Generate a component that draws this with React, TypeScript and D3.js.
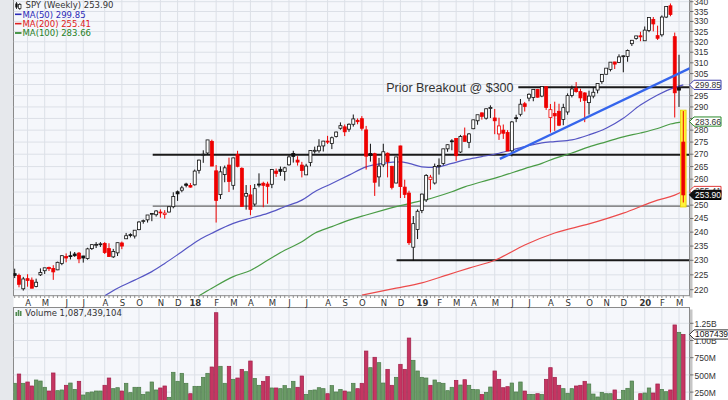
import React from "react";
import * as d3 from "d3";

// ---------- DATA (weekly SPY, Mar 13 2017 .. Mar 9 2020, values as plotted) ----------
const firstWeek = [2017, 2, 13]; // Monday of first weekly bar

const opens = [
  225.4, 224.8, 220.3, 223.7, 223.2, 221.1, 225.0, 226.4, 227.5, 227.2, 226.7, 228.9, 231.3,
  231.6, 232.2, 232.5, 231.5, 230.6, 234.1, 235.4, 235.7, 235.9, 234.1, 231.2, 232.6, 236.1,
  237.6, 239.1, 238.6, 240.9, 243.9, 244.5, 246.7, 246.4, 247.4, 246.5, 247.4, 249.4, 255.1,
  255.7, 258.1, 257.5, 257.8, 263.5, 269.7, 270.5, 275.3, 263.3, 254.0, 261.8, 265.6, 257.6,
  269.9, 264.3, 253.4, 253.9, 250.4, 258.1, 258.4, 258.1, 258.0, 263.2, 263.9, 263.0, 265.7,
  270.3, 267.6, 265.6, 261.7, 266.6, 271.2, 271.4, 273.4, 275.4, 274.4, 277.3, 280.8, 281.4, 280.4,
  282.5, 284.2, 284.9, 280.1, 270.3, 270.2, 260.9, 265.7, 270.4, 265.1, 258.5, 273.4, 256.9,
  254.6, 234.6, 241.0, 248.0, 252.0, 259.9, 258.5, 265.1, 266.2, 272.2, 275.5, 276.5,
  270.9, 277.6, 274.9, 280.6, 284.0, 287.4, 285.1, 289.3, 285.2, 278.4, 280.0, 279.0, 271.4, 285.3,
  286.8, 291.4, 293.9, 294.2, 297.7, 294.8, 299.0, 285.4, 287.1, 288.1, 284.6, 287.8, 295.1,
  298.3, 296.8, 296.2, 291.9, 294.8, 297.5, 301.3, 304.7, 306.9, 310.4, 310.2, 313.1, 313.0,
  319.1, 321.6, 322.9, 320.5, 325.5, 331.0, 323.0, 323.4, 332.2, 337.9, 322.5, 298.2, 275.0,
];
const highs = [
  227.1, 225.4, 224.3, 225.2, 224.1, 223.7, 227.2, 227.4, 227.8, 228.3, 229.5, 231.8, 232.4,
  233.1, 232.9, 232.9, 231.6, 234.4, 235.6, 236.4, 236.4, 236.4, 236.0, 234.0, 236.2, 236.6,
  239.7, 239.6, 240.7, 244.0, 244.6, 246.3, 247.0, 248.1, 248.4, 248.1, 249.5, 254.9, 255.6,
  257.4, 258.6, 258.5, 263.8, 267.8, 271.6, 275.9, 276.0, 265.6, 265.1, 265.4, 268.6, 268.6,
  271.4, 264.7, 257.7, 257.7, 258.1, 262.3, 259.0, 259.0, 263.9, 264.2, 265.0, 264.9, 269.6,
  271.4, 269.2, 266.9, 266.1, 271.7, 273.1, 276.2, 275.5, 277.6, 277.3, 279.4, 283.3, 282.4, 282.9,
  286.7, 285.0, 286.0, 281.8, 274.3, 270.6, 268.5, 274.3, 270.7, 265.3, 268.9, 273.5, 259.8,
  255.5, 245.9, 248.4, 254.4, 262.0, 261.7, 266.2, 268.3, 272.2, 274.0, 276.2, 276.7,
  278.0, 281.1, 278.8, 284.5, 286.3, 287.6, 289.3, 290.7, 289.1, 285.3, 282.4, 280.0, 283.9, 286.6,
  293.5, 292.2, 296.0, 297.8, 298.0, 299.3, 299.1, 291.3, 292.3, 291.4, 291.4, 296.0, 299.5,
  301.1, 298.1, 296.5, 297.2, 298.9, 300.5, 304.7, 307.5, 310.3, 310.5, 314.0, 313.5, 316.3,
  320.9, 322.9, 324.9, 327.5, 332.0, 332.2, 327.9, 333.0, 337.7, 339.08, 324.5, 313.8, 288.2,
];
const lows = [
  223.9, 220.8, 219.7, 221.0, 220.5, 220.8, 224.6, 225.3, 226.3, 223.3, 226.6, 228.3, 229.3,
  230.3, 231.2, 229.0, 229.2, 230.2, 233.6, 234.3, 234.7, 232.2, 231.2, 230.8, 231.5, 233.9,
  237.5, 238.1, 237.7, 240.7, 243.1, 243.5, 244.0, 245.7, 245.3, 244.9, 247.3, 248.8, 251.6,
  254.9, 256.8, 256.7, 257.5, 262.2, 266.5, 269.7, 265.2, 243.5, 252.3, 258.8, 255.0, 255.9,
  264.7, 249.4, 248.3, 246.2, 249.6, 256.8, 249.2, 250.5, 256.5, 260.9, 261.3, 259.4, 265.4,
  266.6, 265.4, 260.7, 261.7, 265.1, 270.3, 270.6, 271.1, 274.2, 272.1, 276.9, 280.2, 277.5, 279.3,
  281.5, 282.5, 279.8, 263.8, 267.0, 253.5, 257.1, 264.8, 260.7, 256.0, 258.4, 252.7, 252.7,
  235.4, 229.8, 237.5, 247.0, 251.2, 255.9, 257.9, 261.8, 265.5, 271.0, 271.6, 267.3,
  270.5, 275.2, 272.5, 280.4, 282.3, 284.5, 284.5, 285.2, 278.3, 275.9, 276.3, 271.4, 269.1, 283.4,
  285.9, 288.0, 292.5, 292.5, 294.1, 294.3, 288.7, 279.0, 279.7, 281.7, 282.1, 286.6, 294.2,
  296.3, 292.2, 283.4, 286.7, 293.8, 296.0, 300.3, 304.5, 306.0, 307.1, 309.9, 305.6, 310.5,
  318.0, 321.0, 320.3, 320.4, 324.7, 325.1, 320.9, 322.5, 331.7, 332.6, 285.4, 290.0, 251.0,
];
const closes = [
  224.8, 221.8, 223.6, 223.1, 220.5, 222.5, 225.8, 227.4, 227.1, 226.0, 229.3, 231.6, 230.8,
  231.3, 231.6, 230.5, 230.8, 234.0, 235.5, 235.6, 235.8, 232.7, 231.3, 233.1, 236.2, 235.0,
  238.7, 238.9, 240.7, 243.7, 244.2, 246.3, 246.9, 247.8, 247.2, 247.0, 249.4, 253.3, 254.3,
  256.6, 257.6, 256.9, 263.2, 267.6, 270.0, 275.9, 265.2, 251.8, 262.9, 264.5, 259.1, 268.5,
  265.1, 249.5, 254.4, 248.4, 256.3, 257.7, 257.6, 257.2, 263.8, 262.3, 263.1, 264.5, 268.9,
  269.1, 266.8, 263.4, 265.2, 271.5, 271.6, 273.3, 275.4, 275.0, 276.8, 279.2, 281.9, 279.3, 282.5,
  284.8, 283.6, 280.8, 269.2, 269.5, 258.8, 265.2, 271.0, 267.0, 256.8, 268.9, 257.1, 254.1,
  236.2, 243.1, 247.7, 254.2, 261.5, 260.8, 265.0, 265.4, 272.2, 273.9, 275.2, 269.4,
  277.3, 275.3, 278.4, 284.4, 286.6, 285.9, 289.2, 289.8, 284.0, 281.8, 278.7, 271.3, 283.5, 285.1,
  291.2, 290.2, 295.6, 297.8, 294.3, 299.1, 289.8, 288.8, 286.1, 282.1, 289.7, 295.0, 298.0,
  296.8, 294.0, 292.9, 294.8, 296.5, 300.5, 304.6, 307.5, 310.3, 309.4, 312.8, 313.3, 315.8,
  320.73, 322.86, 322.41, 325.71, 331.95, 328.77, 321.73, 332.2, 337.6, 333.48, 296.26, 297.46, 253.9,
];
// weekly volume, millions of shares
const volumesM = [
  378, 513, 378, 397, 339, 426, 411, 320, 266, 528, 271, 281, 349,
  382, 290, 407, 208, 242, 252, 266, 266, 349, 455, 300, 314, 266,
  378, 242, 320, 320, 218, 252, 397, 281, 310, 339, 174, 538, 407,
  523, 378, 227, 334, 334, 465, 523, 615, 1404, 625, 378, 625, 436,
  455, 581, 547, 702, 450, 349, 407, 475, 310, 310, 300, 344, 300,
  407, 320, 484, 218, 276, 281, 314, 300, 227, 344, 252, 290, 266, 252,
  378, 300, 378, 847, 605, 756, 678, 382, 581, 349, 465, 654, 581,
  1036, 712, 557, 465, 455, 349, 426, 387, 378, 271, 320, 421,
  353, 430, 349, 290, 285, 218, 247, 324, 557, 436, 314, 329, 382, 252,
  397, 266, 218, 218, 227, 218, 436, 605, 465, 349, 300, 233, 300,
  339, 349, 407, 368, 222, 179, 247, 227, 227, 281, 145, 276, 305,
  411, 110, 227, 237, 310, 237, 368, 290, 256, 281, 1226, 1119, 1087.439,
];

// moving averages: [week index, value]
const ma50 = [
  [21, 218.0], [24, 220.5], [28, 223.2], [32, 226.1], [35, 228.9], [39, 233.0], [43, 237.2],
  [46, 239.6], [51, 243.2], [55, 245.1], [59, 246.9], [63, 249.4], [67, 251.9], [70, 255.1],
  [74, 258.3], [78, 261.6], [82, 264.9], [86, 266.3], [90, 266.9], [92, 266.3], [95, 264.9],
  [98, 264.7], [102, 266.3], [105, 267.7], [109, 269.0], [113, 270.4], [119, 273.1], [123, 274.7],
  [126, 275.2], [130, 275.9], [134, 278.0], [138, 280.8], [142, 285.1], [146, 290.8], [150, 295.3],
  [154, 298.7], [156, 299.85],
];
const ma100 = [
  [43, 218.0], [46, 220.5], [51, 224.4], [55, 226.5], [59, 230.0], [63, 233.5], [67, 236.5],
  [70, 239.6], [74, 242.0], [78, 244.4], [82, 246.3], [86, 248.1], [90, 249.8], [94, 251.3],
  [98, 253.0], [102, 255.1], [105, 257.0], [109, 259.0], [113, 260.9], [119, 264.2], [123, 266.3],
  [126, 268.3], [130, 270.5], [134, 273.0], [138, 275.1], [142, 277.2], [146, 278.8], [150, 280.7],
  [153, 282.6], [156, 283.66],
];
const ma200 = [
  [81, 218.2], [89, 220.5], [95, 222.3], [101, 225.0], [106, 227.3], [112, 230.0], [119, 235.4],
  [126, 239.7], [134, 243.0], [142, 247.0], [150, 251.9], [154, 253.8], [156, 255.41],
];

// annotations: horizontal levels [price, from week index]
const levelPrices = [269.8, 249.6, 298.8, 230.0];
const levelFrom = [32.2, 32.2, 117.5, 89.1];
const levelWidth = [2, 1.3, 2, 2];
const levelColor = ["#1a1a1a", "#666666", "#1a1a1a", "#1a1a1a"];
const trendLine = [[113.2, 268.1], [157.6, 307.5]];
const highlightBar = { index: 156, top: 288.6, bottom: 249.3 };

const priceTicks = d3.range(220, 341, 5);
const volTicks = [250, 500, 750, 1000, 1250];
const volTickLabels = ["250M", "500M", "750M", "1.00B", "1.25B"];
const monthLetters = ["J", "F", "M", "A", "M", "J", "J", "A", "S", "O", "N", "D"];

const tagValues = [299.85, 283.66, 255.41, 253.9];
const tagTexts = ["299.85", "283.66", "255.41", "253.90"];
const tagStroke = ["#3d3da8", "#2b8a2b", "#e03a3a", "#000000"];
const tagFill = ["#ffffff", "#ffffff", "#ffffff", "#111111"];
const tagTextColor = ["#333333", "#333333", "#333333", "#ffffff"];

const legendRows = [
  { text: "MA(50) 299.85", color: "#2b2bb8" },
  { text: "MA(200) 255.41", color: "#e02020" },
  { text: "MA(100) 283.66", color: "#1f7f1f" },
];

// ---------- CHART ----------
const FONT_AX = "'Liberation Sans', Arial, sans-serif";
const FONT_LG = "'DejaVu Sans', Verdana, sans-serif";

function weekDate(i: number) {
  const d = new Date(firstWeek[0], firstWeek[1], firstWeek[2]);
  d.setDate(d.getDate() + 7 * i);
  return d;
}

export default function App() {
  const n = closes.length;
  const x = d3.scaleLinear().domain([0, n - 1]).range([14.7, 683.3]);
  const y = d3.scaleLog().domain([220, 340]).range([289.7, 1.7]);
  const yv = d3.scaleLinear().domain([0, 1250]).range([409.3, 323.3]);

  const PL = 13.5, PR = 689.5, PT = -2, PB = 295.7, VT = 307.5, VB = 405;

  const months: { i: number; label: string; year: boolean }[] = [];
  for (let i = 1; i < n; i++) {
    const a = weekDate(i - 1), b = weekDate(i);
    if (a.getMonth() !== b.getMonth()) {
      const m = b.getMonth();
      months.push({
        i,
        label: m === 0 ? String(b.getFullYear()).slice(2) : monthLetters[m],
        year: m === 0,
      });
    }
  }

  // tick labels hidden behind the value tags (as in the reference)
  const visiblePriceTicks = priceTicks.filter(
    (p) => !tagValues.some((t) => Math.abs(y(p) - y(t)) < 4)
  );

  const maLine = d3
    .line<number[]>()
    .x((d) => x(d[0]))
    .y((d) => y(d[1]))
    .curve(d3.curveMonotoneX);

  const RED = "#ee0000";
  const BLK = "#111111";

  const tag = (yy: number, text: string, stroke: string, fill: string, color: string, key: string, right = 722) => (
    <g key={key}>
      <path
        d={`M${PR},${yy} L${PR + 4.5},${yy - 4.6} L${right},${yy - 4.6} L${right},${yy + 4.6} L${PR + 4.5},${yy + 4.6} Z`}
        fill={fill}
        stroke={stroke}
        strokeWidth={1}
      />
      <text x={PR + 5.5} y={yy + 3} fontSize={8.5} fontFamily={FONT_AX} fill={color}>
        {text}
      </text>
    </g>
  );

  return (
    <svg
      width={728}
      height={400}
      viewBox="0 0 728 400"
      style={{ position: "absolute", left: 0, top: 0, background: "#ffffff" }}
    >
      <defs>
        <clipPath id="mainClip">
          <rect x={PL} y={PT} width={PR - PL} height={PB - PT} />
        </clipPath>
        <clipPath id="volClip">
          <rect x={PL} y={VT} width={PR - PL} height={VB - VT} />
        </clipPath>
      </defs>

      {/* left margin */}
      <rect x={0} y={0} width={PL} height={400} fill="#e6e8ec" />

      {/* panel shadows */}
      <rect x={PR} y={0} width={3} height={PB + 2} fill="#c6c6c6" />
      <rect x={PR} y={VT + 2} width={3} height={400 - VT} fill="#c6c6c6" />

      {/* main panel background */}
      <rect x={PL} y={PT} width={PR - PL} height={PB - PT} fill="#f5f7fb" stroke="#8a8a8a" strokeWidth={1} />
      {/* volume panel background */}
      <rect x={PL} y={VT} width={PR - PL} height={VB - VT} fill="#f5f7fb" stroke="#8a8a8a" strokeWidth={1} />

      {/* grid main */}
      <g clipPath="url(#mainClip)">
        {priceTicks.map((p) => (
          <line key={"hg" + p} x1={PL} x2={PR} y1={y(p)} y2={y(p)} stroke="#dce0e7" strokeWidth={1} />
        ))}
        {months.map((m) => (
          <line key={"vg" + m.i} x1={x(m.i)} x2={x(m.i)} y1={PT} y2={PB} stroke="#dce0e7" strokeWidth={1} />
        ))}
      </g>
      {/* grid volume */}
      <g clipPath="url(#volClip)">
        {volTicks.map((v) => (
          <line key={"vhg" + v} x1={PL} x2={PR} y1={yv(v)} y2={yv(v)} stroke="#dce0e7" strokeWidth={1} />
        ))}
        {months.map((m) => (
          <line key={"vvg" + m.i} x1={x(m.i)} x2={x(m.i)} y1={VT} y2={VB} stroke="#dce0e7" strokeWidth={1} />
        ))}
      </g>

      {/* main chart content */}
      <g clipPath="url(#mainClip)">
        {/* horizontal levels */}
        {levelPrices.map((p, k) => (
          <line
            key={"lv" + k}
            x1={x(levelFrom[k])}
            x2={PR}
            y1={y(p)}
            y2={y(p)}
            stroke={levelColor[k]}
            strokeWidth={levelWidth[k]}
          />
        ))}

        {/* moving averages */}
        <path d={maLine(ma200 as number[][]) || ""} fill="none" stroke="#ec4b4b" strokeWidth={1.2} />
        <path d={maLine(ma100 as number[][]) || ""} fill="none" stroke="#4a9c46" strokeWidth={1.2} />
        <path d={maLine(ma50 as number[][]) || ""} fill="none" stroke="#5656c4" strokeWidth={1.2} />

        {/* highlight of latest bar */}
        <rect
          x={x(highlightBar.index) - 2.8}
          y={y(highlightBar.top)}
          width={5.6}
          height={y(highlightBar.bottom) - y(highlightBar.top)}
          fill="#fff23a"
          stroke="#e6cf00"
          strokeWidth={0.8}
        />

        {/* candles */}
        {closes.map((c, i) => {
          const o = opens[i], h = highs[i], l = lows[i];
          const up = i === 0 ? true : c >= closes[i - 1];
          const col = up ? BLK : RED;
          const hollow = c >= o;
          const cx = x(i);
          const top = y(Math.max(o, c));
          const bot = y(Math.min(o, c));
          return (
            <g key={"c" + i}>
              <line x1={cx} x2={cx} y1={y(h)} y2={y(l)} stroke={col} strokeWidth={1} />
              <rect
                x={cx - 1.5}
                y={top}
                width={3}
                height={Math.max(bot - top, 0.9)}
                fill={hollow ? "#ffffff" : col}
                stroke={col}
                strokeWidth={0.8}
              />
            </g>
          );
        })}

        {/* trend line */}
        <line
          x1={x(trendLine[0][0])}
          y1={y(trendLine[0][1])}
          x2={x(trendLine[1][0])}
          y2={y(trendLine[1][1])}
          stroke="#3565ec"
          strokeWidth={2.4}
        />
      </g>

      {/* annotation text */}
      <text x={513.5} y={92.3} textAnchor="end" fontSize={12.5} fontFamily={FONT_AX} fill="#333333">
        Prior Breakout @ $300
      </text>

      {/* bottom axis week ticks and month labels */}
      {closes.map((_, i) => (
        <line key={"wt" + i} x1={x(i)} x2={x(i)} y1={PB} y2={PB + 2.3} stroke="#777" strokeWidth={0.8} />
      ))}
      {months.map((m) => (
        <text
          key={"ml" + m.i}
          x={x(m.i) + 0.6}
          y={305.8}
          textAnchor="middle"
          fontSize={8.5}
          fontWeight={m.year ? "bold" : "normal"}
          fontFamily={FONT_LG}
          fill="#333"
        >
          {m.label}
        </text>
      ))}

      {/* right price axis */}
      {priceTicks.map((p) => (
        <line key={"ptk" + p} x1={PR + 0.5} x2={PR + 4} y1={y(p)} y2={y(p)} stroke="#555" strokeWidth={0.8} />
      ))}
      {visiblePriceTicks.map((p) => (
        <text key={"pt" + p} x={PR + 4.5} y={y(p) + 3} fontSize={8.5} fontFamily={FONT_AX} fill="#333">
          {p}
        </text>
      ))}
      {tagValues.map((v, k) =>
        tag(y(v), tagTexts[k], tagStroke[k], tagFill[k], tagTextColor[k], "tag" + k, 721)
      )}

      {/* volume bars */}
      <g clipPath="url(#volClip)">
        {volumesM.map((v, i) => {
          const up = i === 0 ? true : closes[i] >= closes[i - 1];
          const yy = yv(v);
          return (
            <rect
              key={"v" + i}
              x={x(i) - 1.75}
              y={yy}
              width={3.5}
              height={yv(0) - yy}
              fill={up ? "#6a9a66" : "#c53562"}
              stroke={up ? "#4a7a48" : "#a02049"}
              strokeWidth={0.7}
            />
          );
        })}
      </g>

      {/* volume axis */}
      {volTicks.map((v, k) => (
        <g key={"vt" + v}>
          <line x1={PR + 0.5} x2={PR + 4} y1={yv(v)} y2={yv(v)} stroke="#555" strokeWidth={0.8} />
          <text x={PR + 5} y={yv(v) + 3.6} fontSize={8.5} fontFamily={FONT_AX} fill="#333">
            {volTickLabels[k]}
          </text>
        </g>
      ))}
      {tag(yv(volumesM[n - 1]), "1087439104", "#333", "#ffffff", "#111", "tvol", 730)}

      {/* legend */}
      <g>
        {/* candle icon */}
        <line x1={16.5} x2={16.5} y1={2} y2={9} stroke="#111" strokeWidth={0.8} />
        <rect x={15.3} y={3.5} width={2.4} height={4} fill="#111" />
        <line x1={19.8} x2={19.8} y1={3} y2={10} stroke="#111" strokeWidth={0.8} />
        <rect x={18.6} y={4.5} width={2.4} height={4} fill="#fff" stroke="#111" strokeWidth={0.7} />
        <text x={25.5} y={8.3} fontSize={8.5} fontFamily={FONT_LG} fill="#333">
          SPY (Weekly) 253.90
        </text>
        {legendRows.map((r, k) => (
          <g key={"lg" + k}>
            <line x1={15} x2={21.5} y1={14.3 + k * 9.35} y2={14.3 + k * 9.35} stroke={r.color} strokeWidth={1.6} />
            <text x={22.5} y={17.5 + k * 9.35} fontSize={8.5} fontFamily={FONT_LG} fill={r.color}>
              {r.text}
            </text>
          </g>
        ))}
        {/* volume label */}
        <rect x={15.5} y={312} width={1.6} height={4} fill="#4f8a4f" />
        <rect x={17.7} y={310} width={1.6} height={6} fill="#4f8a4f" />
        <rect x={19.9} y={311} width={1.6} height={5} fill="#4f8a4f" />
        <text x={25.3} y={316.4} fontSize={8.5} fontFamily={FONT_LG} fill="#333">
          Volume 1,087,439,104
        </text>
      </g>
    </svg>
  );
}
